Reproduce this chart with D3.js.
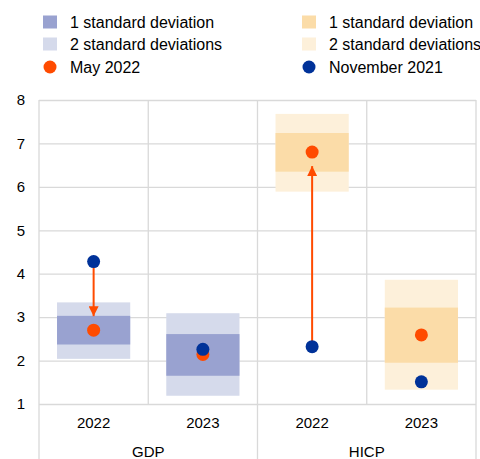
<!DOCTYPE html>
<html>
<head>
<meta charset="utf-8">
<script src="https://cdn.jsdelivr.net/npm/d3@7"></script>
<style>
  body { margin: 0; background: #fff; }
  text { font-family: "Liberation Sans", Arial, sans-serif; fill: #000; }
</style>
</head>
<body>
<div id="chart"></div>
<script>
// values
const groups = ["GDP", "HICP"];
const years = ["2022", "2023", "2022", "2023"];
const sd2Low = [2.04, 1.19, 5.89, 1.33];
const sd2High = [3.34, 3.09, 7.68, 3.86];
const sd1Low = [2.37, 1.65, 6.35, 1.95];
const sd1High = [3.03, 2.61, 7.24, 3.22];
const may2022 = [2.70, 2.14, 6.80, 2.59];
const nov2021 = [4.28, 2.26, 2.32, 1.51];
const hasArrow = [true, false, true, false];
const yTicks = [1, 2, 3, 4, 5, 6, 7, 8];

const colors = {
  gdp1: "#99a2d0", gdp2: "#d5daeb",
  hicp1: "#fbdca8", hicp2: "#fdf0da",
  may: "#ff4b00", nov: "#003299",
  grid: "#d9d9d9"
};

var W = 480, H = 459;
var pLeft = 39, pRight = 476, pTop = 100, pBottom = 404;

var svg = d3.select("#chart").append("svg")
  .attr("width", W).attr("height", H);

var x = d3.scaleBand().domain(d3.range(4)).range([pLeft, pRight]);
var y = d3.scaleLinear().domain([1, 8]).range([pBottom, pTop]);
var boxW = x.bandwidth() * 0.67;

// y grid + labels
var yAxis = svg.append("g")
  .attr("transform", "translate(" + pLeft + ",0)")
  .call(d3.axisLeft(y).tickValues(yTicks).tickFormat(d3.format("d"))
    .tickSize(-(pRight - pLeft)).tickPadding(14));
yAxis.select(".domain").remove();
yAxis.selectAll("line").attr("stroke", colors.grid).attr("stroke-width", 1.3);
yAxis.selectAll("text").style("font-size", "15px").style("font-family", "Liberation Sans, Arial, sans-serif");

// vertical separators
var bounds = [0, 1, 2, 3, 4];
svg.selectAll("line.vsep")
  .data(bounds)
  .enter().append("line")
  .attr("class", "vsep")
  .attr("x1", function (d) { return d < 4 ? x(d) : x(3) + x.bandwidth(); })
  .attr("x2", function (d) { return d < 4 ? x(d) : x(3) + x.bandwidth(); })
  .attr("y1", pTop)
  .attr("y2", function (d) { return d % 2 == 0 ? H : pBottom; })
  .attr("stroke", colors.grid)
  .attr("stroke-width", 1.3);

// boxes
var idx = d3.range(4);
svg.selectAll("rect.sd2").data(idx).enter().append("rect")
  .attr("x", function (i) { return x(i) + (x.bandwidth() - boxW) / 2; })
  .attr("y", function (i) { return y(sd2High[i]); })
  .attr("width", boxW)
  .attr("height", function (i) { return y(sd2Low[i]) - y(sd2High[i]); })
  .attr("fill", function (i) { return i < 2 ? colors.gdp2 : colors.hicp2; });

svg.selectAll("rect.sd1").data(idx).enter().append("rect")
  .attr("x", function (i) { return x(i) + (x.bandwidth() - boxW) / 2; })
  .attr("y", function (i) { return y(sd1High[i]); })
  .attr("width", boxW)
  .attr("height", function (i) { return y(sd1Low[i]) - y(sd1High[i]); })
  .attr("fill", function (i) { return i < 2 ? colors.gdp1 : colors.hicp1; });

// arrows from November 2021 to May 2022
svg.append("defs").append("marker")
  .attr("id", "arr")
  .attr("viewBox", "0 0 10 10")
  .attr("refX", 10).attr("refY", 5)
  .attr("markerWidth", 5).attr("markerHeight", 5)
  .attr("orient", "auto")
  .append("path").attr("d", "M0,0 L10,5 L0,10 z").attr("fill", colors.may);

var arrowIdx = idx.filter(function (i) { return hasArrow[i]; });
svg.selectAll("line.arrow").data(arrowIdx).enter().append("line")
  .attr("x1", function (i) { return x(i) + x.bandwidth() / 2; })
  .attr("x2", function (i) { return x(i) + x.bandwidth() / 2; })
  .attr("y1", function (i) { return y(nov2021[i]); })
  .attr("y2", function (i) {
    var dir = may2022[i] > nov2021[i] ? 1 : -1;
    return y(may2022[i]) + dir * 14;
  })
  .attr("stroke", colors.may)
  .attr("stroke-width", 2)
  .attr("marker-end", "url(#arr)");

// dots
svg.selectAll("circle.may").data(idx).enter().append("circle")
  .attr("cx", function (i) { return x(i) + x.bandwidth() / 2; })
  .attr("cy", function (i) { return y(may2022[i]); })
  .attr("r", 6.5)
  .attr("fill", colors.may);

svg.selectAll("circle.nov").data(idx).enter().append("circle")
  .attr("cx", function (i) { return x(i) + x.bandwidth() / 2; })
  .attr("cy", function (i) { return y(nov2021[i]); })
  .attr("r", 6.5)
  .attr("fill", colors.nov);

// x labels
svg.selectAll("text.yr").data(idx).enter().append("text")
  .attr("x", function (i) { return x(i) + x.bandwidth() / 2; })
  .attr("y", 428)
  .attr("text-anchor", "middle")
  .style("font-size", "15px")
  .text(function (i) { return years[i]; });

svg.selectAll("text.grp").data(groups).enter().append("text")
  .attr("x", function (d, i) { return x(i * 2) + x.bandwidth(); })
  .attr("y", 457)
  .attr("text-anchor", "middle")
  .style("font-size", "15px")
  .text(function (d) { return d; });

// legend
var legend = [
  { col: 0, row: 0, type: "rect", color: colors.gdp1, label: "1 standard deviation" },
  { col: 0, row: 1, type: "rect", color: colors.gdp2, label: "2 standard deviations" },
  { col: 0, row: 2, type: "dot", color: colors.may, label: "May 2022" },
  { col: 1, row: 0, type: "rect", color: colors.hicp1, label: "1 standard deviation" },
  { col: 1, row: 1, type: "rect", color: colors.hicp2, label: "2 standard deviations" },
  { col: 1, row: 2, type: "dot", color: colors.nov, label: "November 2021" }
];
var colX = [43, 302], rowY = [22, 44, 67];
var lg = svg.selectAll("g.lg").data(legend).enter().append("g")
  .attr("transform", function (d) { return "translate(" + colX[d.col] + "," + rowY[d.row] + ")"; });
lg.filter(function (d) { return d.type == "rect"; }).append("rect")
  .attr("x", 0).attr("y", -6.5).attr("width", 14).attr("height", 13)
  .attr("fill", function (d) { return d.color; });
lg.filter(function (d) { return d.type == "dot"; }).append("circle")
  .attr("cx", 7).attr("cy", 0).attr("r", 6.5)
  .attr("fill", function (d) { return d.color; });
lg.append("text")
  .attr("x", 27).attr("y", 5.5)
  .style("font-size", "16px")
  .text(function (d) { return d.label; });
</script>
</body>
</html>
